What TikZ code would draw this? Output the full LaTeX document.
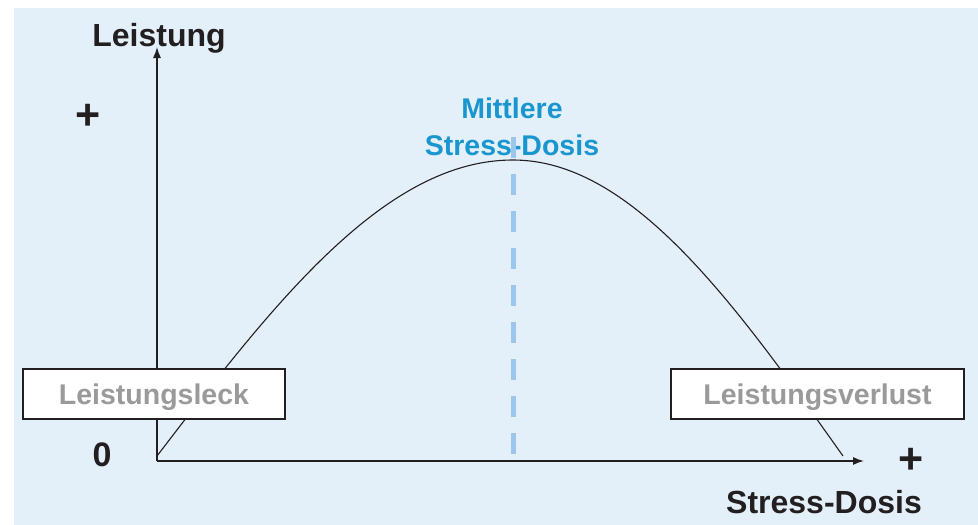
\documentclass[tikz,border=0pt]{standalone}
\usepackage{fontspec}
\setmainfont{Liberation Sans}
\usetikzlibrary{arrows.meta}
\definecolor{bgblue}{HTML}{E3F0FA}
\definecolor{titleblue}{HTML}{1A96CF}
\definecolor{dashblue}{HTML}{9DC6EC}
\definecolor{boxgrey}{HTML}{9A9A9A}
\definecolor{ink}{HTML}{231F20}
\tikzset{
  axislabel/.style={font=\bfseries\fontsize{32}{38}\selectfont, text=ink, inner sep=0pt},
  plussign/.style={font=\bfseries\fontsize{43}{48}\selectfont, text=ink, inner sep=0pt},
  zerosign/.style={font=\bfseries\fontsize{34}{40}\selectfont, text=ink, inner sep=0pt},
  bluelabel/.style={font=\bfseries\fontsize{28.5}{37}\selectfont, text=titleblue, inner sep=0pt, align=center},
  zonebox/.style={draw=ink, line width=1.2pt, fill=white, text=boxgrey,
    font=\bfseries\fontsize{28.5}{34}\selectfont, minimum height=50pt, inner sep=0pt,
    text height=20pt, text depth=0pt},
  axisline/.style={draw=ink, line width=1.4pt, -{Latex[length=11pt,width=8pt]}},
  curveline/.style={draw=ink, line width=1.1pt},
}
\begin{document}
\begin{tikzpicture}[x=1pt,y=-1pt]
\useasboundingbox (0,0) rectangle (978,525);
\fill[bgblue] (14,8) rectangle (978,525);
% axes
\coordinate (origin) at (157,461);
\coordinate (ytip) at (157,47);
\coordinate (xtip) at (864,461);
\draw[axisline] (origin) -- (ytip);
\draw[axisline] (origin) -- (xtip);
% curve
\draw[curveline] plot[domain=157:513, samples=80, smooth] (\x, {456 - 296*cos((\x-513)*0.252809)})
  -- plot[domain=513:843, samples=80, smooth] (\x, {456 - 296*cos((\x-513)*0.272727)});
% labels
\node[axislabel, anchor=base] (ylab) at (159,46) {Leistung};
\node[plussign, anchor=base] (yplus) at (88,129) {+};
\node[zerosign, anchor=base] (zero) at (102,466) {0};
\node[plussign, anchor=base] (xplus) at (911,473) {+};
\node[axislabel, anchor=base] (xlab) at (824,513) {Stress-Dosis};
\node[bluelabel, anchor=base] (mid1) at (512,118) {Mittlere};
\node[bluelabel, anchor=base] (mid2) at (512,155) {Stress-Dosis};
% dashed line
\coordinate (dtop) at (513,137);
\coordinate (dbot) at (513,461);
\draw[dashblue, line width=5pt, dash pattern=on 21pt off 16pt] (dtop) -- (dbot);
% boxes
\node[zonebox, minimum width=262pt] (leck) at (154,394) {Leistungsleck};
\node[zonebox, minimum width=293pt] (verlust) at (817.5,394) {Leistungsverlust};
\end{tikzpicture}
\end{document}
